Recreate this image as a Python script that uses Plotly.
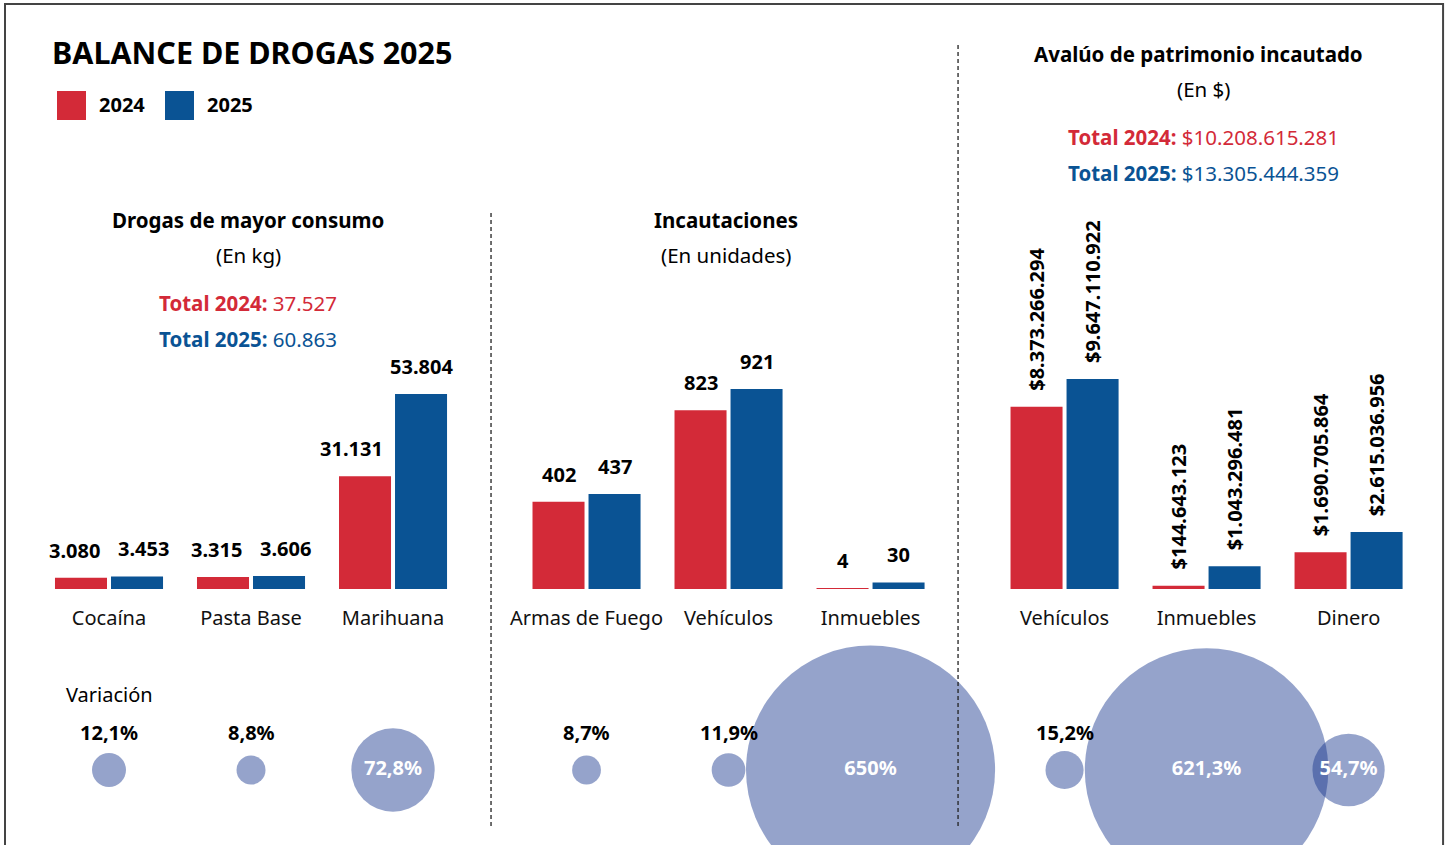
import math
import plotly.graph_objects as go

# ---------------- data ----------------
years = ["2024", "2025"]

drug_cats = ["Cocaína", "Pasta Base", "Marihuana"]
drug_2024 = [3080, 3315, 31131]
drug_2025 = [3453, 3606, 53804]
drug_var = [12.1, 8.8, 72.8]
drug_totals = ["37.527", "60.863"]

seiz_cats = ["Armas de Fuego", "Vehículos", "Inmuebles"]
seiz_2024 = [402, 823, 4]
seiz_2025 = [437, 921, 30]
seiz_var = [8.7, 11.9, 650.0]

asset_cats = ["Vehículos", "Inmuebles", "Dinero"]
asset_2024 = [8373266294, 144643123, 1690705864]
asset_2025 = [9647110922, 1043296481, 2615036956]
asset_var = [15.2, 621.3, 54.7]
asset_totals = ["$10.208.615.281", "$13.305.444.359"]

# ---------------- style ----------------
W, H = 1449, 845
RED = "#D32A38"
BLUE = "#0A5394"
BUBBLE = "rgba(19,51,139,0.45)"
FONT = "Noto Sans"
DASH = "#222222"


def xp(px):
    # horizontal pixel -> paper, with a small calibration for the capture
    return ((px - 5) / 0.9965) / W


def yp(py):
    return 1 - py / H


def fmt_int(v):
    return f"{v:,}".replace(",", ".")


def fmt_pct(v):
    s = f"{v:.1f}".replace(".", ",")
    if s.endswith(",0"):
        s = s[:-2]
    return s + "%"


def est_w(t):
    # rough width (px) of a bold 20px label
    return sum(5.6 if c in ".," else 11.4 for c in t)


fig = go.Figure()

panels = [
    dict(cats=drug_cats, a=drug_2024, b=drug_2025, var=drug_var, money=False,
         dom=(38, 464), maxpx=195, xa="x", ya="y"),
    dict(cats=seiz_cats, a=seiz_2024, b=seiz_2025, var=seiz_var, money=False,
         dom=(515.5, 941.5), maxpx=200, xa="x2", ya="y2"),
    dict(cats=asset_cats, a=asset_2024, b=asset_2025, var=asset_var, money=True,
         dom=(993.5, 1419.5), maxpx=210, xa="x3", ya="y3"),
]

BASE_PX = 589
TOP_PX = 200
PLOT_H = BASE_PX - TOP_PX
HALF = 28  # px offset of each bar center from category center
LBL_SHIFT = 12
BUBBLE_K = 9.77  # px diameter per sqrt(percent)
SIZEREF = 2 / (BUBBLE_K ** 2)  # area mode sizeref

annotations = []
layout_axes = {}
for i, p in enumerate(panels):
    n = "" if i == 0 else str(i + 1)
    xs = list(range(len(p["cats"])))
    ymax = max(p["b"] + p["a"]) * PLOT_H / p["maxpx"]
    pxu = PLOT_H / ymax
    for vals, col, yr in ((p["a"], RED, years[0]), (p["b"], BLUE, years[1])):
        fig.add_trace(go.Bar(
            x=xs, y=vals, name=yr, marker=dict(color=col, line=dict(width=0)),
            xaxis=p["xa"], yaxis=p["ya"], showlegend=False, hoverinfo="skip"))
    # value labels, nudged to avoid collisions
    for x, va, vb in zip(xs, p["a"], p["b"]):
        ta = ("$" + fmt_int(va)) if p["money"] else fmt_int(va)
        tb = ("$" + fmt_int(vb)) if p["money"] else fmt_int(vb)
        sa = sb = 0
        if not p["money"]:
            wa, wb = est_w(ta), est_w(tb)
            dpx = (vb - va) * pxu
            if abs(dpx) < 20:
                need = (wa + wb) / 2 + 17
                sa = sb = max(0, (need - 2 * HALF) / 2)
            elif dpx > LBL_SHIFT:
                sa = max(0, wa / 2 - 18)
            elif -dpx > LBL_SHIFT:
                sb = max(0, wb / 2 - 18)
        for v, t, sh in ((va, ta, -HALF - sa), (vb, tb, HALF + sb)):
            annotations.append(dict(
                x=x, y=v, xref=p["xa"], yref=p["ya"], xshift=sh,
                yshift=14 if p["money"] else LBL_SHIFT,
                text=f"<b>{t}</b>", showarrow=False, xanchor="center", yanchor="bottom",
                textangle=-90 if p["money"] else 0,
                font=dict(family=FONT, size=20, color="#000")))
    layout_axes["xaxis" + n] = dict(
        domain=[xp(p["dom"][0]), xp(p["dom"][1])], range=[-0.5, len(xs) - 0.5],
        tickvals=xs, ticktext=p["cats"], showgrid=False, zeroline=False, showline=False,
        ticks="", ticklabelstandoff=15, anchor=p["ya"],
        tickfont=dict(family=FONT, size=20, color="#111"), fixedrange=True)
    layout_axes["yaxis" + n] = dict(
        domain=[yp(BASE_PX), yp(TOP_PX)], range=[0, ymax], visible=False,
        anchor=p["xa"], fixedrange=True)

    # variation bubbles
    diam = [BUBBLE_K * math.sqrt(v) for v in p["var"]]
    inside = [d > 60 for d in diam]
    fig.add_trace(go.Scatter(
        x=xs, y=[0] * len(xs), xaxis=p["xa"], yaxis="y4", mode="markers+text",
        marker=dict(size=p["var"], sizemode="area", sizeref=SIZEREF, color=BUBBLE,
                    opacity=1, line=dict(width=0)),
        text=[f"<b>{fmt_pct(v)}</b>" if ins else "" for v, ins in zip(p["var"], inside)],
        textposition="middle center",
        textfont=dict(family=FONT, size=20, color="white"),
        cliponaxis=False, showlegend=False, hoverinfo="skip"))
    for x, v, ins in zip(xs, p["var"], inside):
        if not ins:
            annotations.append(dict(
                x=x, y=0, xref=p["xa"], yref="y4", yshift=38, showarrow=False,
                text=f"<b>{fmt_pct(v)}</b>", font=dict(family=FONT, size=20, color="#000")))

layout_axes["yaxis4"] = dict(domain=[0, yp(695)], range=[-1, 1], visible=False,
                             anchor="x", fixedrange=True)


def txt(x, y, text, size=20.5, color="#000", xanchor="center"):
    annotations.append(dict(x=xp(x), y=yp(y), xref="paper", yref="paper", text=text,
                            showarrow=False, xanchor=xanchor, yanchor="middle",
                            font=dict(family=FONT, size=size, color=color)))


# title & legend
txt(50, 52, "<b>BALANCE DE DROGAS 2025</b>", size=30.5, xanchor="left")
txt(97, 105, f"<b>{years[0]}</b>", size=20, xanchor="left")
txt(205, 105, f"<b>{years[1]}</b>", size=20, xanchor="left")

# panel headers
txt(248, 220, "<b>Drogas de mayor consumo</b>")
txt(248, 255, "(En kg)")
txt(248, 303, f"<b>Total {years[0]}:</b> {drug_totals[0]}", color=RED)
txt(248, 339, f"<b>Total {years[1]}:</b> {drug_totals[1]}", color=BLUE)

txt(726, 220, "<b>Incautaciones</b>")
txt(726, 255, "(En unidades)")

txt(1198, 54, "<b>Avalúo de patrimonio incautado</b>")
txt(1203, 89, "(En $)")
txt(1203, 137, f"<b>Total {years[0]}:</b> {asset_totals[0]}", color=RED)
txt(1203, 173, f"<b>Total {years[1]}:</b> {asset_totals[1]}", color=BLUE)

txt(109, 694, "Variación", size=20)

shapes = [
    dict(type="rect", xref="paper", yref="paper", x0=xp(5), x1=xp(1443), y0=yp(4), y1=-0.2,
         line=dict(color="#444", width=2), fillcolor="rgba(0,0,0,0)", layer="below"),
    dict(type="rect", xref="paper", yref="paper", x0=xp(57), x1=xp(86), y0=yp(91), y1=yp(120),
         line=dict(width=0), fillcolor=RED),
    dict(type="rect", xref="paper", yref="paper", x0=xp(165), x1=xp(194), y0=yp(91), y1=yp(120),
         line=dict(width=0), fillcolor=BLUE),
    dict(type="line", xref="paper", yref="paper", x0=xp(491), x1=xp(491), y0=yp(213), y1=yp(826),
         line=dict(color=DASH, width=1.3, dash="4px,3px"), layer="above"),
    dict(type="line", xref="paper", yref="paper", x0=xp(958), x1=xp(958), y0=yp(45), y1=yp(826),
         line=dict(color=DASH, width=1.3, dash="4px,3px"), layer="above"),
]

fig.update_layout(
    width=W, height=H, margin=dict(l=0, r=0, t=0, b=0),
    paper_bgcolor="white", plot_bgcolor="rgba(0,0,0,0)",
    barmode="group", bargap=0.211, bargroupgap=0.0714,
    font=dict(family=FONT, color="#000"),
    annotations=annotations, shapes=shapes, showlegend=False,
    **layout_axes)

fig.write_html("out.html", config={"displayModeBar": False},
               post_script="document.body.style.margin='0';document.body.style.overflow='hidden';")
